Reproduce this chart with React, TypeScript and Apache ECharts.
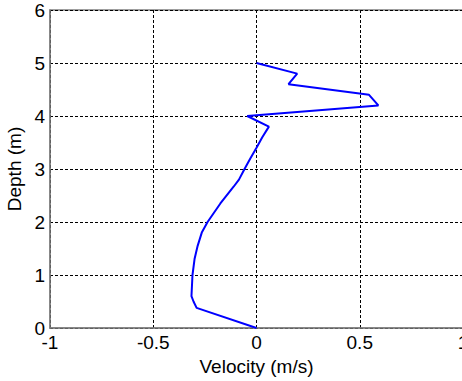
import React, { useEffect, useRef } from "react";
import * as echarts from "echarts";

const depths = [0, 0.38, 0.5, 0.6, 1.0, 1.3, 1.55, 1.8, 2.0, 2.35, 2.67, 2.8, 3.0, 3.2, 3.4, 3.6, 3.8, 4.0, 4.2, 4.4, 4.6, 4.8, 5.0];
const velocities = [0, -0.29, -0.305, -0.315, -0.31, -0.3, -0.285, -0.265, -0.237, -0.175, -0.11, -0.085, -0.058, -0.03, 0.0, 0.028, 0.06, -0.045, 0.59, 0.545, 0.155, 0.197, 0];
const xTicks = { min: -1, max: 1, interval: 0.5 };
const yTicks = { min: 0, max: 6, interval: 1 };

const FONT = "'Liberation Sans', Arial, sans-serif";

export default function App() {
  const ref = useRef<HTMLDivElement>(null);
  useEffect(() => {
    if (!ref.current) return;
    const chart = echarts.init(ref.current, undefined, { renderer: "svg" });
    const data = velocities.map((v, i) => [v, depths[i]]);
    chart.setOption({
      animation: false,
      backgroundColor: "#ffffff",
      grid: {
        left: 50,
        top: 10,
        width: 413,
        height: 318,
        show: true,
        borderColor: "#808080",
        borderWidth: 1.5,
        backgroundColor: "transparent",
        containLabel: false,
        outerBoundsMode: "none",
      },
      xAxis: {
        type: "value",
        min: xTicks.min,
        max: xTicks.max,
        interval: xTicks.interval,
        name: "Velocity (m/s)",
        nameLocation: "middle",
        nameGap: 27,
        nameTextStyle: { color: "#000", fontSize: 19, fontFamily: FONT },
        axisLine: { show: true, onZero: false, lineStyle: { color: "#808080", width: 1.5 } },
        axisTick: { show: false },
        axisLabel: { color: "#000", fontSize: 19, fontFamily: FONT, margin: 5, hideOverlap: false },
        splitLine: { show: true, lineStyle: { color: "#000", type: [3, 2], width: 1 } },
      },
      yAxis: {
        type: "value",
        min: yTicks.min,
        max: yTicks.max,
        interval: yTicks.interval,
        name: "Depth (m)",
        nameLocation: "middle",
        nameGap: 24,
        nameTextStyle: { color: "#000", fontSize: 19, fontFamily: FONT },
        axisLine: { show: true, onZero: false, lineStyle: { color: "#808080", width: 1.5 } },
        axisTick: { show: false },
        axisLabel: { color: "#000", fontSize: 19, fontFamily: FONT, margin: 5, hideOverlap: false },
        splitLine: { show: true, lineStyle: { color: "#000", type: [3, 2], width: 1 } },
      },
      series: [
        {
          type: "line",
          data,
          showSymbol: false,
          symbol: "none",
          lineStyle: { color: "#0000ff", width: 2 },
        },
      ],
    });
    return () => chart.dispose();
  }, []);
  return (
    <div
      ref={ref}
      style={{ position: "fixed", left: 0, top: 0, width: 462, height: 381, background: "#fff" }}
    />
  );
}
